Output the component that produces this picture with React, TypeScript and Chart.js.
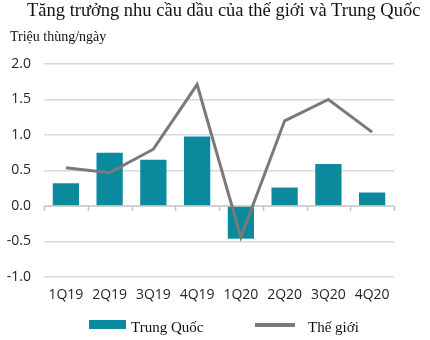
import React, { useEffect, useRef } from "react";
import { Chart, registerables } from "chart.js";

Chart.register(...registerables);

const categories = ["1Q19", "2Q19", "3Q19", "4Q19", "1Q20", "2Q20", "3Q20", "4Q20"];
const chinaValues = [0.32, 0.75, 0.65, 0.98, -0.46, 0.26, 0.59, 0.19];
const worldValues = [0.54, 0.47, 0.8, 1.71, -0.44, 1.2, 1.5, 1.04];
const yTickMin = -1.0;
const yTickMax = 2.0;
const yTickStep = 0.5;

const TEAL = "#0a8a9c";
const GRAY = "#7a7a7a";

const zeroAxisPlugin = {
  id: "zeroAxis",
  beforeDatasetsDraw(chart: any) {
    const { ctx, scales } = chart;
    const x = scales.x;
    const y = scales.y;
    const y0 = y.getPixelForValue(0);
    ctx.save();
    ctx.strokeStyle = "#c4c4c4";
    ctx.lineWidth = 1.5;
    ctx.beginPath();
    ctx.moveTo(x.left, y0);
    ctx.lineTo(x.right, y0);
    for (let i = 0; i <= categories.length; i++) {
      const px = Math.round(x.getPixelForValue(i - 0.5)) + 0.5;
      ctx.moveTo(px, y0);
      ctx.lineTo(px, y0 + 5);
    }
    ctx.stroke();
    ctx.restore();
  },
};

export default function App() {
  const ref = useRef<HTMLCanvasElement | null>(null);

  useEffect(() => {
    if (!ref.current) return;
    const chart = new Chart(ref.current, {
      type: "bar",
      data: {
        labels: categories,
        datasets: [
          {
            type: "bar",
            label: "Trung Quốc",
            data: chinaValues,
            backgroundColor: TEAL,
            borderWidth: 0,
            categoryPercentage: 1,
            barPercentage: 0.6,
            order: 2,
          },
          {
            type: "line",
            label: "Thế giới",
            data: worldValues,
            borderColor: GRAY,
            borderWidth: 3,
            pointRadius: 0,
            tension: 0,
            fill: false,
            order: 1,
          } as any,
        ],
      },
      options: {
        animation: false,
        responsive: false,
        maintainAspectRatio: false,
        layout: { padding: { top: 64, right: 36, bottom: 33, left: 0 } },
        plugins: {
          legend: { display: false },
          title: { display: false },
          tooltip: { enabled: false },
        },
        scales: {
          x: {
            grid: { display: false, drawTicks: false },
            border: { display: false },
            ticks: {
              color: "#262626",
              font: { family: "Open Sans", size: 14 },
              padding: 10,
              maxRotation: 0,
              autoSkip: false,
            },
            afterFit(scale: any) {
              scale.height = 30;
            },
          },
          y: {
            min: yTickMin,
            max: yTickMax,
            grid: {
              color: (c: any) => (c.tick && c.tick.value === 0 ? "rgba(0,0,0,0)" : "#d9d9d9"),
              lineWidth: 1.5,
              drawTicks: false,
            },
            border: { display: false },
            ticks: {
              stepSize: yTickStep,
              color: "#262626",
              font: { family: "Open Sans", size: 14 },
              padding: 13,
              callback: (v: any) => Number(v).toFixed(1),
            },
            afterFit(scale: any) {
              scale.width = 44;
            },
          },
        },
      },
      plugins: [zeroAxisPlugin],
    });
    return () => chart.destroy();
  }, []);

  const serif = "'Liberation Serif', 'Times New Roman', serif";
  return (
    <div style={{ position: "fixed", left: 0, top: 0, width: 430, height: 340, background: "#fff" }}>
      <canvas ref={ref} width={430} height={340} style={{ position: "absolute", left: 0, top: 0, width: 430, height: 340 }} />
      <div style={{ position: "absolute", left: 27, top: 1.2, fontFamily: serif, fontSize: 18.5, lineHeight: "18.5px", whiteSpace: "nowrap", color: "#111" }}>
        Tăng trưởng nhu cầu dầu của thế giới và Trung Quốc
      </div>
      <div style={{ position: "absolute", left: 10, top: 30, fontFamily: serif, fontSize: 14, lineHeight: "14px", whiteSpace: "nowrap", color: "#111" }}>
        Triệu thùng/ngày
      </div>
      <div style={{ position: "absolute", left: 89, top: 320, width: 37, height: 9, background: TEAL }} />
      <div style={{ position: "absolute", left: 131, top: 319.5, fontFamily: serif, fontSize: 15, lineHeight: "15px", whiteSpace: "nowrap", color: "#111" }}>
        Trung Quốc
      </div>
      <div style={{ position: "absolute", left: 255, top: 323, width: 40, height: 4, background: GRAY }} />
      <div style={{ position: "absolute", left: 308, top: 319.5, fontFamily: serif, fontSize: 15, lineHeight: "15px", whiteSpace: "nowrap", color: "#111" }}>
        Thế giới
      </div>
    </div>
  );
}
